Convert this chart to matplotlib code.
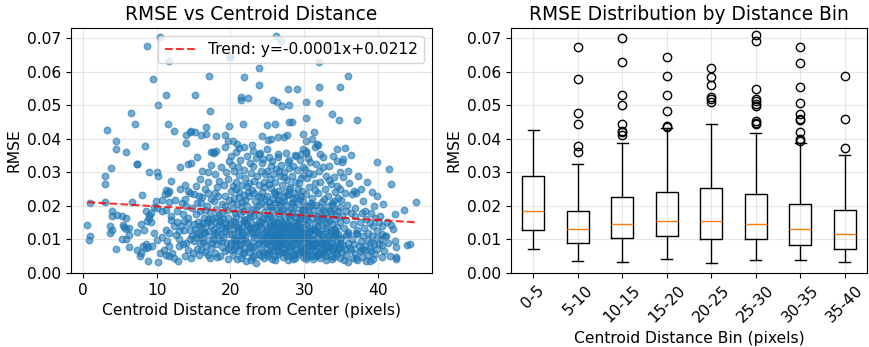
import matplotlib
matplotlib.use("Agg")
import numpy as np
import matplotlib.pyplot as plt
from matplotlib.ticker import MultipleLocator

plt.rcParams['font.size'] = 11.2

# scatter points: (distance in px, rmse in units of 1e-3)
pts_0_10 = [(0.6,14.4),(1.0,10.9),(0.8,9.7),(0.9,20.9),(3.05,21.3),(3.0,29.0),(3.0,26.5),(3.2,42.7),
            (3.8,31.3),(3.9,18.4),(3.9,16.9),(3.7,13.9),(4.0,12.7),(3.7,11.9),(4.5,39.2),(4.5,36.9),
            (4.5,7.2),(4.6,17.4),
            (5.8,36.1),(5.4,14.4),(5.8,13.2),(6.2,13.4),(5.6,13.7),(5.3,10.0),(5.9,10.0),(6.2,11.4),
            (6.3,7.7),(6.5,47.8),(6.7,21.3),(7.0,44.4),(7.3,32.5),(7.3,12.1),(7.8,14.7),(8.3,12.9),
            (8.7,15.4),(8.9,16.4),(9.2,15.2),(7.3,7.0),(7.7,5.0),(8.2,8.0),(8.5,8.5),(8.6,7.5),
            (8.8,7.8),(9.3,8.0),(7.9,6.0),(8.8,3.5),(8.0,23.1),(8.4,37.8),(8.7,67.6),(9.0,30.2),
            (9.5,57.8),(9.6,11.9),(8.5,18.4),(8.9,17.4),(9.2,17.9),(9.6,19.7),(5.3,16.9),(5.8,16.4),
            (9.9,21.6),(7.3,32.5)]

pts_10_20 = [(10.4,70.2),(11.6,63.1),(11.2,53.1),(10.2,50.0),(11.5,44.3),(12.3,42.3),(14.7,42.3),
             (14.0,41.2),(14.5,42.1),(14.0,38.7),(10.0,30.2),(10.2,29.0),(13.1,31.6),(14.3,32.5),
             (11.2,24.8),(11.7,24.3),(11.1,23.5),(11.5,23.8),(13.2,25.0),(13.9,26.3),(14.2,24.5),
             (14.5,23.8),(10.7,21.8),(11.6,21.2),(12.5,21.8),(13.4,20.9),(13.9,22.1),(14.0,20.1),
             (10.1,9.7),(10.7,10.8),(11.2,12.9),(11.4,9.4),(11.7,11.9),(10.5,6.0),(11.0,7.0),
             (11.2,5.5),(11.7,5.2),(12.1,6.0),(12.3,4.5),(11.7,8.0),(11.9,15.9),(12.3,13.9),
             (12.7,15.1),(13.0,12.4),(13.3,13.9),(13.7,15.4),(14.2,14.9),(14.5,12.9),(13.7,12.9),
             (12.6,11.4),(13.0,10.0),(13.5,8.5),(14.0,9.0),(14.5,10.0),(14.2,7.0),(13.0,8.0),
             (10.1,19.4),(10.7,18.4),(11.2,18.9),(10.2,3.2),(12.0,17.0),(12.8,18.5),(13.5,17.5),
             (14.3,16.5),(14.8,19.5),(12.0,27.5),(14.8,11.0),(14.9,6.0),(14.6,4.5),(13.8,5.0),
             (12.9,3.5),(14.6,32.7),
             (19.9,64.4),(17.1,58.7),(15.2,53.1),(17.2,48.2),(19.8,43.8),(16.7,43.4),(15.2,42.0),
             (16.0,41.2),(16.7,41.4),(18.1,40.9),(19.2,41.0),(19.6,39.3),(17.6,36.1),(18.0,36.3),
             (19.2,37.5),(17.3,36.2),(17.8,35.9),(17.3,32.2),(18.7,31.7),(15.5,34.5),(16.2,30.5),
             (15.8,28.0),(16.9,27.0),(17.9,29.5),(18.5,27.5),(19.4,30.0),(19.8,33.5),(15.3,26.0),
             (16.5,25.0),(18.2,25.5),(19.1,26.3),(19.7,28.0),(17.0,30.0),
             (15.1,23.5),(15.5,21.0),(15.9,18.5),(16.2,22.7),(16.4,16.5),(16.8,20.0),(17.0,23.8),
             (17.2,18.0),(17.5,16.2),(17.7,21.5),(18.0,19.0),(18.3,22.8),(18.5,17.2),(18.8,20.5),
             (19.0,16.0),(19.3,23.0),(19.5,18.7),(19.8,21.8),(15.3,17.5),(16.0,20.8),(16.6,18.9),
             (17.4,22.0),(18.1,16.8),(18.9,18.0),(19.6,16.5),(15.7,23.0),(17.9,23.9),(19.2,20.0),
             (16.9,16.1),
             (15.0,14.5),(15.4,12.0),(15.6,15.2),(15.9,11.3),(16.1,13.5),(16.3,14.8),(16.6,11.8),
             (16.8,15.0),(17.0,12.6),(17.3,14.0),(17.6,11.1),(17.8,13.2),(18.0,15.3),(18.2,12.2),
             (18.4,14.3),(18.7,11.5),(18.9,13.8),(19.1,15.0),(19.3,12.5),(19.5,14.1),(19.8,11.7),
             (15.2,13.0),(16.4,12.3),(17.1,15.4),(17.9,11.8),(18.6,15.5),(19.4,13.3),(19.9,14.8),
             (15.8,14.0),
             (15.1,9.5),(15.4,7.2),(15.7,5.5),(15.9,8.8),(16.2,10.4),(16.5,6.3),(16.7,8.0),
             (17.0,9.9),(17.2,4.6),(17.4,7.5),(17.7,10.2),(17.9,6.0),(18.1,8.6),(18.4,9.7),
             (18.6,5.2),(18.8,7.8),(19.0,10.6),(19.3,6.7),(19.5,9.0),(19.7,4.3),(19.9,8.2),
             (15.3,10.7),(16.0,6.9),(16.9,5.4),(17.5,9.0),(18.2,4.9),(18.9,9.5),(19.6,7.3),(16.3,9.2)]

pts_20_25 = [(23.9,61.2),(21.9,58.5),(23.9,56.0),(21.4,52.5),(22.4,52.2),(21.4,51.4),(20.0,64.3),
             (20.3,39.4),(20.9,38.5),(21.2,37.2),(21.9,37.6),(21.7,44.3),(24.3,40.8),(24.0,35.9),
             (20.1,34.9),(23.9,35.5),(20.2,32.2),(22.6,32.7),(20.5,30.5),(20.8,27.0),(21.1,29.2),
             (21.3,33.8),(21.6,26.1),(21.8,30.8),(22.0,28.2),(22.2,35.0),(22.5,26.8),(22.8,29.9),
             (23.0,31.8),(23.2,27.5),(23.4,34.2),(23.6,28.8),(23.8,26.2),(24.1,30.3),(24.3,32.9),
             (24.5,27.0),(24.7,29.5),(24.9,37.0),(20.4,25.8),(21.0,31.5),(22.3,25.9),(23.1,36.5),
             (24.6,25.7),(20.7,36.0),(22.9,38.2),(24.4,34.0),
             (20.1,24.5),(20.3,19.0),(20.5,22.3),(20.7,16.8),(20.9,20.5),(21.1,24.0),(21.3,17.5),
             (21.5,21.2),(21.7,18.6),(21.9,23.3),(22.1,16.2),(22.3,20.0),(22.5,22.8),(22.7,18.0),
             (22.9,24.8),(23.1,16.9),(23.3,21.5),(23.5,19.4),(23.7,23.0),(23.9,17.4),(24.1,20.8),
             (24.3,24.2),(24.5,18.3),(24.7,22.0),(24.9,16.4),(20.2,21.0),(20.8,25.0),(21.4,19.8),
             (22.0,21.9),(22.6,17.0),(23.2,23.9),(23.8,20.2),(24.4,16.0),(20.6,18.0),(21.8,15.8),
             (23.0,19.0),(24.2,22.6),(24.8,19.9),(21.2,22.6),(22.4,24.0),
             (20.0,14.2),(20.2,11.5),(20.4,13.0),(20.6,15.1),(20.8,10.7),(21.0,12.4),(21.2,14.6),
             (21.4,11.0),(21.6,13.6),(21.8,15.4),(22.0,10.3),(22.2,12.8),(22.4,14.0),(22.6,11.8),
             (22.8,15.0),(23.0,13.1),(23.2,10.6),(23.4,14.4),(23.6,12.0),(23.8,15.5),(24.0,11.2),
             (24.2,13.5),(24.4,10.4),(24.6,14.9),(24.8,12.6),(20.3,15.5),(20.9,13.8),(21.5,12.1),
             (22.1,15.0),(22.7,13.4),(23.3,11.7),(23.9,14.0),(24.5,11.9),(20.5,10.2),(21.7,11.4),
             (22.9,12.2),(24.1,15.2),(24.9,10.9),(21.1,13.2),(23.5,13.8),
             (20.1,8.9),(20.3,5.4),(20.5,7.2),(20.7,9.6),(20.9,4.1),(21.1,6.5),(21.3,8.2),
             (21.5,9.9),(21.7,5.8),(21.9,7.5),(22.1,3.5),(22.3,9.1),(22.5,6.2),(22.7,8.0),
             (22.9,4.8),(23.1,9.5),(23.3,6.9),(23.5,3.1),(23.7,8.5),(23.9,5.6),(24.1,9.8),
             (24.3,7.0),(24.5,4.4),(24.7,8.7),(24.9,6.0),(20.2,6.9),(20.8,8.1),(21.4,4.6),
             (22.0,9.4),(22.6,7.4),(23.2,5.1),(23.8,9.0),(24.4,6.3),(20.6,9.9),(21.8,6.4),
             (23.0,7.7),(24.2,5.0),(24.8,9.3),(22.8,3.9),(21.2,8.6)]

pts_25_30 = [(26.2,70.7),(26.9,69.2),(27.8,54.7),(29.0,54.7),(25.7,51.6),(26.3,51.1),(27.9,50.2),
             (27.0,49.8),(28.3,45.1),(27.9,44.9),(26.0,44.4),(25.0,44.0),
             (25.1,39.6),(25.5,39.9),(26.4,40.5),(27.2,40.4),(27.7,41.0),(29.8,41.5),(29.8,36.9),
             (26.4,35.4),(28.7,35.2),(29.6,35.5),(25.2,34.5),(26.4,34.7),(28.0,33.7),(28.9,34.9),
             (29.4,33.7),(25.5,32.0),(26.9,32.2),(27.8,33.2),
             (25.0,30.5),(25.3,28.0),(25.5,25.2),(25.8,29.6),(26.0,27.0),(26.2,31.0),(26.5,24.5),
             (26.7,28.8),(27.0,26.3),(27.2,30.0),(27.4,24.0),(27.7,27.7),(27.9,31.2),(28.1,25.6),
             (28.3,29.0),(28.6,23.9),(28.8,27.2),(29.0,30.6),(29.2,25.0),(29.5,28.4),(29.7,24.4),
             (29.9,31.6),(25.2,26.5),(25.9,24.2),(26.6,30.3),(27.3,28.5),(28.0,24.9),(28.5,31.8),
             (29.3,26.8),(29.8,29.2),(25.6,33.5),(27.5,35.8),
             (25.0,22.8),(25.1,17.2),(25.3,20.1),(25.4,15.0),(25.6,18.8),(25.7,22.0),(25.9,16.3),
             (26.0,20.9),(26.2,14.9),(26.3,19.5),(26.5,23.1),(26.6,17.8),(26.8,21.3),(26.9,15.6),
             (27.1,19.0),(27.2,22.5),(27.4,16.7),(27.5,20.4),(27.7,14.8),(27.8,18.2),(28.0,23.4),
             (28.1,16.0),(28.3,21.0),(28.4,17.5),(28.6,19.7),(28.7,15.2),(28.9,22.7),(29.0,18.0),
             (29.2,20.6),(29.3,15.9),(29.5,23.0),(29.6,17.1),(29.8,21.6),(29.9,19.2),(25.2,21.2),
             (25.8,15.4),(26.4,21.7),(26.9,18.5),(27.6,23.3),(28.2,19.4),(28.8,16.6),(29.4,22.0),
             (25.5,19.6),(26.1,23.5),(26.7,16.0),(27.3,21.4),(27.9,17.0),(28.5,22.1),(29.1,15.0),
             (29.7,18.7),(25.3,16.9),(26.6,20.3),(27.0,14.6),(28.4,20.8),(29.5,16.4),
             (25.0,13.2),(25.1,10.5),(25.2,12.1),(25.4,14.0),(25.5,11.2),(25.7,13.0),(25.8,10.8),
             (26.0,12.5),(26.1,14.3),(26.3,11.5),(26.4,13.6),(26.6,10.3),(26.7,12.8),(26.9,14.1),
             (27.0,11.0),(27.2,13.3),(27.3,10.6),(27.5,12.4),(27.6,14.4),(27.8,11.3),(27.9,13.7),
             (28.1,10.2),(28.2,12.0),(28.4,13.9),(28.5,11.7),(28.7,13.1),(28.8,10.9),(29.0,12.6),
             (29.1,14.2),(29.3,11.1),(29.4,13.4),(29.6,10.4),(29.7,12.3),(29.9,13.8),(25.3,11.9),
             (25.9,13.9),(26.5,12.0),(27.1,12.9),(27.7,10.4),(28.3,11.6),(28.9,14.4),(29.5,12.0),
             (25.6,14.2),(26.2,10.9),(26.8,11.8),(27.4,14.0),(28.0,12.8),(28.6,10.5),(29.2,13.0),
             (29.8,11.4),(25.0,10.9),(26.0,11.4),(27.0,13.6),(28.0,14.0),(29.0,11.3),
             (25.0,8.6),(25.1,5.2),(25.3,7.0),(25.4,9.5),(25.6,4.3),(25.7,6.8),(25.9,8.9),
             (26.0,3.8),(26.2,7.6),(26.3,9.8),(26.5,5.6),(26.6,8.1),(26.8,6.2),(26.9,9.3),
             (27.1,4.7),(27.2,7.3),(27.4,9.0),(27.5,5.9),(27.7,8.4),(27.8,4.0),(28.0,6.6),
             (28.1,9.6),(28.3,5.3),(28.4,7.9),(28.6,9.1),(28.7,4.5),(28.9,7.1),(29.0,8.8),
             (29.2,5.7),(29.3,9.7),(29.5,6.4),(29.6,8.2),(29.8,4.9),(29.9,7.5),(25.2,6.1),
             (25.8,9.9),(26.4,6.9),(27.0,8.5),(27.6,5.1),(28.2,8.0),(28.8,6.0),(29.4,7.8),
             (25.5,7.9),(26.1,5.0),(26.7,9.6),(27.3,6.3),(27.9,7.7),(28.5,4.2),(29.1,9.9),
             (29.7,6.7),(26.3,8.3),(28.6,5.5)]

pts_30_35 = [(33.5,67.2),(32.0,62.8),(32.0,55.5),(34.8,55.5),(30.3,50.9),(32.0,50.7),(33.7,47.3),
             (34.7,45.6),(30.2,46.2),(31.3,42.0),(31.1,39.8),(30.3,39.4),
             (30.3,36.3),(31.4,37.6),(31.9,38.2),(31.7,38.5),(34.4,36.9),(30.3,35.7),(30.5,34.2),
             (30.1,31.0),(30.4,28.2),(30.6,25.5),(30.8,33.0),(31.0,22.4),(31.2,29.6),(31.4,26.8),
             (31.6,32.4),(31.8,23.8),(32.0,30.5),(32.2,27.2),(32.4,21.3),(32.6,34.6),(32.8,25.0),
             (33.0,29.0),(33.2,22.9),(33.4,31.8),(33.6,26.4),(33.8,21.0),(34.0,28.6),(34.2,24.1),
             (34.4,33.3),(34.6,22.2),(34.8,30.2),(30.2,23.4),(30.9,20.9),(31.5,24.7),(32.1,35.5),
             (32.7,22.0),(33.3,27.6),(33.9,35.0),(34.5,26.0),(30.7,29.9),(32.5,31.5),(34.1,21.6),
             (34.9,24.9),
             (30.0,19.0),(30.2,14.6),(30.4,17.2),(30.6,20.1),(30.8,13.5),(31.0,16.3),(31.2,18.8),
             (31.4,15.0),(31.6,20.3),(31.8,13.9),(32.0,17.6),(32.2,19.6),(32.4,14.2),(32.6,16.8),
             (32.8,18.3),(33.0,13.3),(33.2,20.0),(33.4,15.6),(33.6,17.9),(33.8,14.5),(34.0,19.3),
             (34.2,16.0),(34.4,13.6),(34.6,18.6),(34.8,15.3),(30.1,16.0),(30.7,18.0),(31.3,13.2),
             (31.9,15.8),(32.5,18.9),(33.1,16.5),(33.7,20.4),(34.3,17.4),(34.9,19.8),(30.5,15.4),
             (31.7,17.0),(32.9,14.8),(34.1,13.2),(31.1,20.2),(33.5,18.6),(30.3,19.9),(32.3,16.1),
             (30.0,12.0),(30.2,9.1),(30.4,10.7),(30.6,12.6),(30.8,8.6),(31.0,11.3),(31.2,9.8),
             (31.4,12.8),(31.6,8.9),(31.8,10.4),(32.0,12.2),(32.2,9.4),(32.4,11.6),(32.6,8.5),
             (32.8,10.1),(33.0,12.5),(33.2,9.6),(33.4,11.0),(33.6,12.9),(33.8,8.8),(34.0,10.9),
             (34.2,12.3),(34.4,9.3),(34.6,11.5),(34.8,10.0),(30.1,10.3),(30.7,11.8),(31.3,8.7),
             (31.9,11.9),(32.5,10.6),(33.1,8.4),(33.7,10.5),(34.3,11.2),(34.9,8.9),(30.5,9.5),
             (31.7,12.4),(32.9,9.0),(34.1,12.7),(31.1,10.0),(33.5,11.9),(30.9,12.9),(32.3,8.6),
             (30.0,7.0),(30.2,4.8),(30.4,6.3),(30.6,8.0),(30.8,5.5),(31.0,7.6),(31.2,4.2),
             (31.4,6.8),(31.6,5.1),(31.8,7.9),(32.0,6.0),(32.2,4.5),(32.4,7.3),(32.6,5.8),
             (32.8,8.2),(33.0,4.0),(33.2,6.6),(33.4,7.7),(33.6,5.0),(33.8,6.9),(34.0,4.7),
             (34.2,8.1),(34.4,5.6),(34.6,7.1),(34.8,4.4),(30.1,5.9),(30.7,6.6),(31.3,7.9),
             (31.9,5.3),(32.5,6.4),(33.1,7.5),(33.7,4.3),(34.3,6.2),(34.9,7.8),(30.5,8.3),
             (31.7,6.1),(32.9,5.2),(34.1,7.2),(31.1,5.0),(33.5,8.0),(30.3,4.1),(32.7,7.0)]

pts_35_46 = [(36.0,58.7),(37.1,45.7),(35.5,37.3),
             (36.4,35.2),(35.1,33.0),(35.2,34.0),(37.7,25.0),(37.0,23.8),(36.5,23.5),(36.7,24.3),
             (36.1,26.8),(35.5,23.8),(39.8,22.8),(39.8,33.0),(38.2,18.6),(35.3,28.5),(36.0,30.4),
             (37.3,29.0),(38.5,27.2),(39.2,24.0),(38.0,21.5),(35.8,20.3),(36.9,19.5),(39.5,20.0),
             (35.0,21.8),
             (35.1,17.0),(35.4,13.5),(35.7,15.8),(36.0,12.2),(36.3,18.0),(36.6,14.6),(36.9,16.9),
             (37.2,12.8),(37.5,15.2),(37.8,17.8),(38.1,13.3),(38.4,16.1),(38.7,12.0),(39.0,17.9),
             (39.3,14.0),(39.6,16.5),(39.9,12.5),(35.6,18.5),(37.0,11.9),(38.9,15.0),
             (35.0,10.5),(35.3,8.2),(35.6,11.2),(35.9,9.0),(36.2,7.5),(36.5,10.1),(36.8,8.6),
             (37.1,11.5),(37.4,7.9),(37.7,9.6),(38.0,10.9),(38.3,8.0),(38.6,9.8),(38.9,7.4),
             (39.2,11.0),(39.5,8.7),(39.8,10.3),(36.0,11.6),(37.9,7.3),(39.0,9.2),
             (35.1,6.2),(35.4,4.0),(35.7,5.5),(36.0,3.3),(36.3,6.8),(36.6,4.6),(36.9,5.9),
             (37.2,3.8),(37.5,6.5),(37.8,4.9),(38.1,7.0),(38.4,3.6),(38.7,5.3),(39.0,6.6),
             (39.3,4.2),(39.6,5.8),(39.9,7.1),(35.5,7.1),(37.0,4.4),(38.9,3.5),
             (40.3,16.9),(40.1,15.2),(40.5,14.1),(40.7,20.6),(41.8,14.4),(42.3,17.7),(43.5,18.9),
             (45.1,21.2),(41.5,31.0),(41.7,26.5),(40.9,11.0),(40.4,10.0),(40.5,11.5),(42.3,9.5),
             (42.5,7.8),(44.0,8.3),(44.4,8.5),(40.1,8.5),(40.6,4.8),(41.6,5.0),(42.4,4.8),
             (42.5,4.2),(41.2,15.1),(42.0,13.1),(40.8,6.5),(41.3,9.0),(40.5,8.2),(41.1,11.0)]

bin_labels = ['0-5', '5-10', '10-15', '15-20', '20-25', '25-30', '30-35', '35-40']
box_med = [0.0186, 0.0130, 0.0147, 0.0156, 0.0156, 0.0145, 0.0130, 0.0117]
box_q1 = [0.0129, 0.0088, 0.0104, 0.0109, 0.0101, 0.0101, 0.0084, 0.0073]
box_q3 = [0.0289, 0.0185, 0.0225, 0.0241, 0.0254, 0.0236, 0.0205, 0.0188]
box_lo = [0.0073, 0.0035, 0.0033, 0.0043, 0.0031, 0.0038, 0.0040, 0.0033]
box_hi = [0.0426, 0.0325, 0.0387, 0.0433, 0.0443, 0.0417, 0.0387, 0.0351]
box_fliers = [[],
              [0.0674, 0.0577, 0.0478, 0.0444, 0.0379, 0.0360],
              [0.0701, 0.0630, 0.0531, 0.0500, 0.0443, 0.0424, 0.0420, 0.0410],
              [0.0644, 0.0586, 0.0531, 0.0482, 0.0439, 0.0436],
              [0.0611, 0.0584, 0.0560, 0.0525, 0.0518, 0.0511],
              [0.0708, 0.0690, 0.0547, 0.0518, 0.0512, 0.0505, 0.0498, 0.0453, 0.0447, 0.0443],
              [0.0672, 0.0626, 0.0555, 0.0507, 0.0473, 0.0460, 0.0456, 0.0420, 0.0398, 0.0394],
              [0.0586, 0.0458, 0.0373]]

trend_slope = -0.000135
trend_intercept = 0.0212

pts = np.array(pts_0_10 + pts_10_20 + pts_20_25 + pts_25_30 + pts_30_35 + pts_35_46)
dist = pts[:, 0]
rmse = pts[:, 1] / 1000.0

fig = plt.figure(figsize=(8.7, 3.47), dpi=100)
ax1 = fig.add_axes([71/870, 74/347, 361/870, 245/347])
ax2 = fig.add_axes([511/870, 74/347, 356/870, 245/347])

ax1.scatter(dist, rmse, s=22, alpha=0.6, color='#1f77b4')
xt = np.array([dist.min(), dist.max()])
ax1.plot(xt, trend_slope * xt + trend_intercept, 'r--', alpha=0.8,
         label=f'Trend: y={trend_slope:.4f}x+{trend_intercept:.4f}')
ax1.set_ylim(0, 0.073)
ax1.yaxis.set_major_locator(MultipleLocator(0.01))
ax1.set_xlabel('Centroid Distance from Center (pixels)')
ax1.set_ylabel('RMSE')
ax1.set_title('RMSE vs Centroid Distance')
ax1.legend(loc='upper right')
ax1.grid(True, alpha=0.3)

stats = []
for i in range(len(bin_labels)):
    stats.append(dict(med=box_med[i], q1=box_q1[i], q3=box_q3[i],
                      whislo=box_lo[i], whishi=box_hi[i], fliers=box_fliers[i]))
ax2.bxp(stats, showfliers=True)
ax2.set_xticks(range(1, len(bin_labels) + 1))
ax2.set_xticklabels(bin_labels, rotation=45)
ax2.set_ylim(0, 0.073)
ax2.yaxis.set_major_locator(MultipleLocator(0.01))
ax2.set_xlabel('Centroid Distance Bin (pixels)')
ax2.set_ylabel('RMSE')
ax2.set_title('RMSE Distribution by Distance Bin')
ax2.grid(True, alpha=0.3)

fig.savefig('out.png', dpi=100)
